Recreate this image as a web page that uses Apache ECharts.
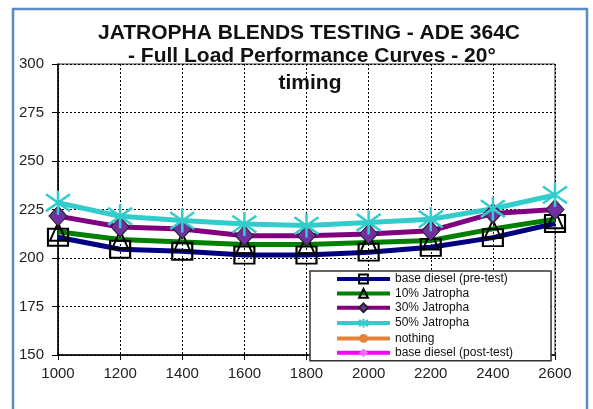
<!DOCTYPE html>
<html>
<head>
<meta charset="utf-8">
<script src="https://cdn.jsdelivr.net/npm/echarts@6/dist/echarts.min.js"></script>
<style>
  html, body { margin: 0; padding: 0; background: #fff; }
  #chart { width: 593px; height: 409px; }
</style>
</head>
<body>
<div id="chart"></div>
<script>
// engine speed (rpm) and curves
var rpm = [1000, 1200, 1400, 1600, 1800, 2000, 2200, 2400, 2600];
var basePre = [210.7, 204.5, 203.5, 201.5, 201.5, 203, 205.5, 210.5, 217.8];
var jat10 = [213.5, 209.5, 208.3, 207, 207, 208, 209, 215, 220];
var jat30 = [221.6, 216, 215, 211.5, 211.5, 212.4, 214, 223, 225];
var jat50 = [228.5, 221.5, 219.3, 217.5, 216.7, 218.3, 220, 225.4, 232.5];
var nothing = [];
var basePost = [];
var yTicks = [150, 175, 200, 225, 250, 275, 300];
var titleLines = ['JATROPHA BLENDS TESTING - ADE 364C', ' - Full Load Performance Curves - 20°', 'timing'];

(function () {
    var myChart = echarts.init(document.getElementById('chart'));

    function pairs(ys) {
        return ys.map(function (v, i) { return [rpm[i], v]; });
    }

    var star = 'path://M0,-10L0,10M-7,-7L7,7M-7,7L7,-7';
    var titleFont = 'bold 21px Arial, "Liberation Sans", sans-serif';

    function line(name, ys, color, symbol, size, itemStyle) {
        return {
            name: name,
            type: 'line',
            data: pairs(ys),
            symbol: symbol,
            symbolSize: size,
            showSymbol: true,
            lineStyle: { color: color, width: 5 },
            itemStyle: itemStyle,
            emphasis: { disabled: true },
            animation: false
        };
    }

    var option = {
        backgroundColor: '#fff',
        textStyle: { fontFamily: 'Arial, "Liberation Sans", sans-serif' },
        graphic: [
            // outer frame
            {
                type: 'rect',
                shape: { x: 13, y: 9, width: 574, height: 420 },
                style: { fill: 'none', stroke: '#5b8cc8', lineWidth: 2.5 },
                silent: true
            },
            {
                type: 'text',
                style: { x: 309, y: 33, text: titleLines[0], textAlign: 'center', textVerticalAlign: 'middle',
                    font: titleFont, fill: '#111' }
            },
            {
                type: 'text',
                style: { x: 309, y: 56, text: titleLines[1], textAlign: 'center', textVerticalAlign: 'middle',
                    font: titleFont, fill: '#111' }
            },
            {
                type: 'text',
                style: { x: 310, y: 83, text: titleLines[2], textAlign: 'center', textVerticalAlign: 'middle',
                    font: titleFont, fill: '#111' }
            }
        ],
        legend: {
            orient: 'vertical',
            left: 310,
            top: 271,
            itemWidth: 53,
            itemHeight: 11,
            itemGap: 2.4,
            padding: [2, 38, 2, 25],
            backgroundColor: '#fff',
            borderColor: '#333',
            borderWidth: 1.5,
            borderRadius: 0,
            lineStyle: { width: 4 },
            textStyle: { fontSize: 12, color: '#111' },
            selectedMode: false
        },
        grid: {
            left: 58,
            right: 38,
            top: 64,
            bottom: 54,
            show: true,
            borderColor: '#333',
            borderWidth: 1,
            backgroundColor: 'transparent'
        },
        xAxis: {
            type: 'value',
            min: 1000,
            max: 2600,
            interval: 200,
            axisLine: { show: true, lineStyle: { color: '#000', width: 1.5 } },
            axisTick: { show: true, length: 5, lineStyle: { color: '#000' } },
            axisLabel: { color: '#222', fontSize: 15, margin: 11, formatter: function (v) { return String(v); } },
            splitLine: { show: true, lineStyle: { color: '#000', type: [2, 2], width: 1 } }
        },
        yAxis: {
            type: 'value',
            min: yTicks[0],
            max: yTicks[yTicks.length - 1],
            interval: 25,
            axisLine: { show: true, lineStyle: { color: '#000', width: 1.5 } },
            axisTick: { show: true, length: 6, lineStyle: { color: '#000' } },
            axisLabel: { color: '#222', fontSize: 15, margin: 14 },
            splitLine: { show: true, lineStyle: { color: '#000', type: [2, 2], width: 1 } }
        },
        series: [
            line('base diesel (pre-test)', basePre, '#000080', 'rect', [20, 17],
                { color: 'rgba(0,0,0,0)', borderColor: '#000', borderWidth: 2 }),
            line('10% Jatropha', jat10, '#008000', 'triangle', [16, 18],
                { color: 'rgba(0,0,0,0)', borderColor: '#000', borderWidth: 2 }),
            line('30% Jatropha', jat30, '#800080', 'diamond', [18, 20],
                { color: '#7030a0', borderColor: '#222', borderWidth: 1 }),
            line('50% Jatropha', jat50, '#33cccc', star, 24,
                { color: 'none', borderColor: '#33cccc', borderWidth: 2.5 }),
            line('nothing', nothing, '#e6833a', 'circle', 10,
                { color: '#e6833a' }),
            line('base diesel (post-test)', basePost, '#ff00ff', 'diamond', 10,
                { color: '#ff66ff' })
        ]
    };
    myChart.setOption(option);
    window.addEventListener('resize', function () {
        myChart.resize();
    });
})();
</script>
</body>
</html>
